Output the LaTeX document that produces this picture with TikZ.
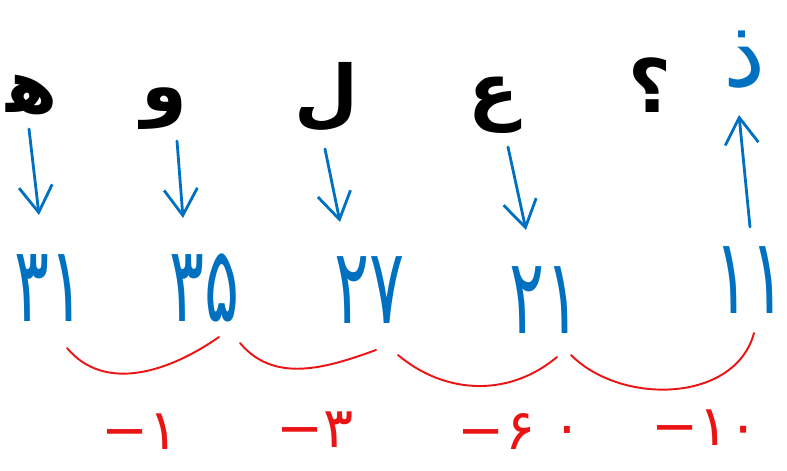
\documentclass[tikz,border=0pt]{standalone}
\usepackage{fontspec}
\newfontfamily\arabicfont[Script=Arabic]{DejaVu Sans}
\usetikzlibrary{arrows.meta}
\definecolor{penblue}{RGB}{0,112,192}
\definecolor{penred}{RGB}{235,20,20}
\newcommand{\narrow}[1]{\scalebox{0.62}[1]{#1}}
\tikzstyle{letternode} = [inner sep=0pt, font=\arabicfont\bfseries\fontsize{42}{42}\selectfont]
\tikzstyle{numnode} = [inner sep=0pt, text=penblue, font=\arabicfont\fontsize{60}{60}\selectfont]
\tikzstyle{diffnode} = [inner sep=0pt, text=penred, font=\arabicfont\fontsize{32}{32}\selectfont]
\tikzstyle{arrow} = [penblue, line width=1.6pt, line cap=round, -{Straight Barb[length=15pt,width=19pt]}]
\tikzstyle{diffarc} = [penred, line width=1.1pt, line cap=round]

\begin{document}
\begin{tikzpicture}[x=0.02cm, y=0.02cm]
  \useasboundingbox (0,0) rectangle (787,470);

  % letters on top
  \node (h) [letternode] at (32,375) {ه^^^^200d};
  \node (w) [letternode] at (164,361) {و};
  \node (l) [letternode] at (327,373) {ل};
  \node (ain) [letternode] at (494,365) {ع};
  \node (q) [letternode] at (650,385) {؟};
  \node (dh) [numnode, font=\arabicfont\fontsize{54}{54}\selectfont] at (745,410) {ذ};

  % numbers
  \node (n31) [numnode] at (50,182) {\narrow{۳۱}};
  \node (n35) [numnode] at (205,182) {\narrow{۳۵}};
  \node (n27) [numnode] at (370,180) {\narrow{۲۷}};
  \node (n21) [numnode] at (545,170) {\narrow{۲۱}};
  \node (n11) [numnode] at (750,190) {\narrow{۱۱}};

  \draw [arrow] ([shift={(-3,-34)}]h.center) -- ([shift={(-11,73)}]n31.center);
  \draw [arrow] ([shift={(13,-32)}]w.center) -- ([shift={(-22,70)}]n35.center);
  \draw [arrow] ([shift={(-2,-52)}]l.center) -- ([shift={(-30,68)}]n27.center);
  \draw [arrow] ([shift={(14,-42)}]ain.center) -- ([shift={(-19,70)}]n21.center);
  \draw [arrow] ([shift={(0,53)}]n11.center) -- ([shift={(-6,-55)}]dh.center);

  % differences
  \draw [diffarc] ([shift={(17,-60)}]n31.center) to[out=-50, in=-145] ([shift={(14,-49)}]n35.center);
  \draw [diffarc] ([shift={(35,-55)}]n35.center) to[out=-50, in=-160] ([shift={(6,-60)}]n27.center);
  \draw [diffarc] ([shift={(28,-65)}]n27.center) to[out=-40, in=-140] ([shift={(12,-57)}]n21.center);
  \draw [diffarc] ([shift={(26,-55)}]n21.center) to[out=-45, in=-105] ([shift={(4,-53)}]n11.center);

  \node (d1) [diffnode] at (140,38) {\mbox{−}\mbox{۱}};
  \node (d2) [diffnode] at (315,40) {\mbox{−}\mbox{۳}};
  \node (d3) [diffnode] at (517,38) {\mbox{−}\mbox{۶}\hspace{13pt}\mbox{·}};
  \node (d4) [diffnode] at (705,42) {\mbox{−}\mbox{۱۰}};
\end{tikzpicture}
\end{document}
